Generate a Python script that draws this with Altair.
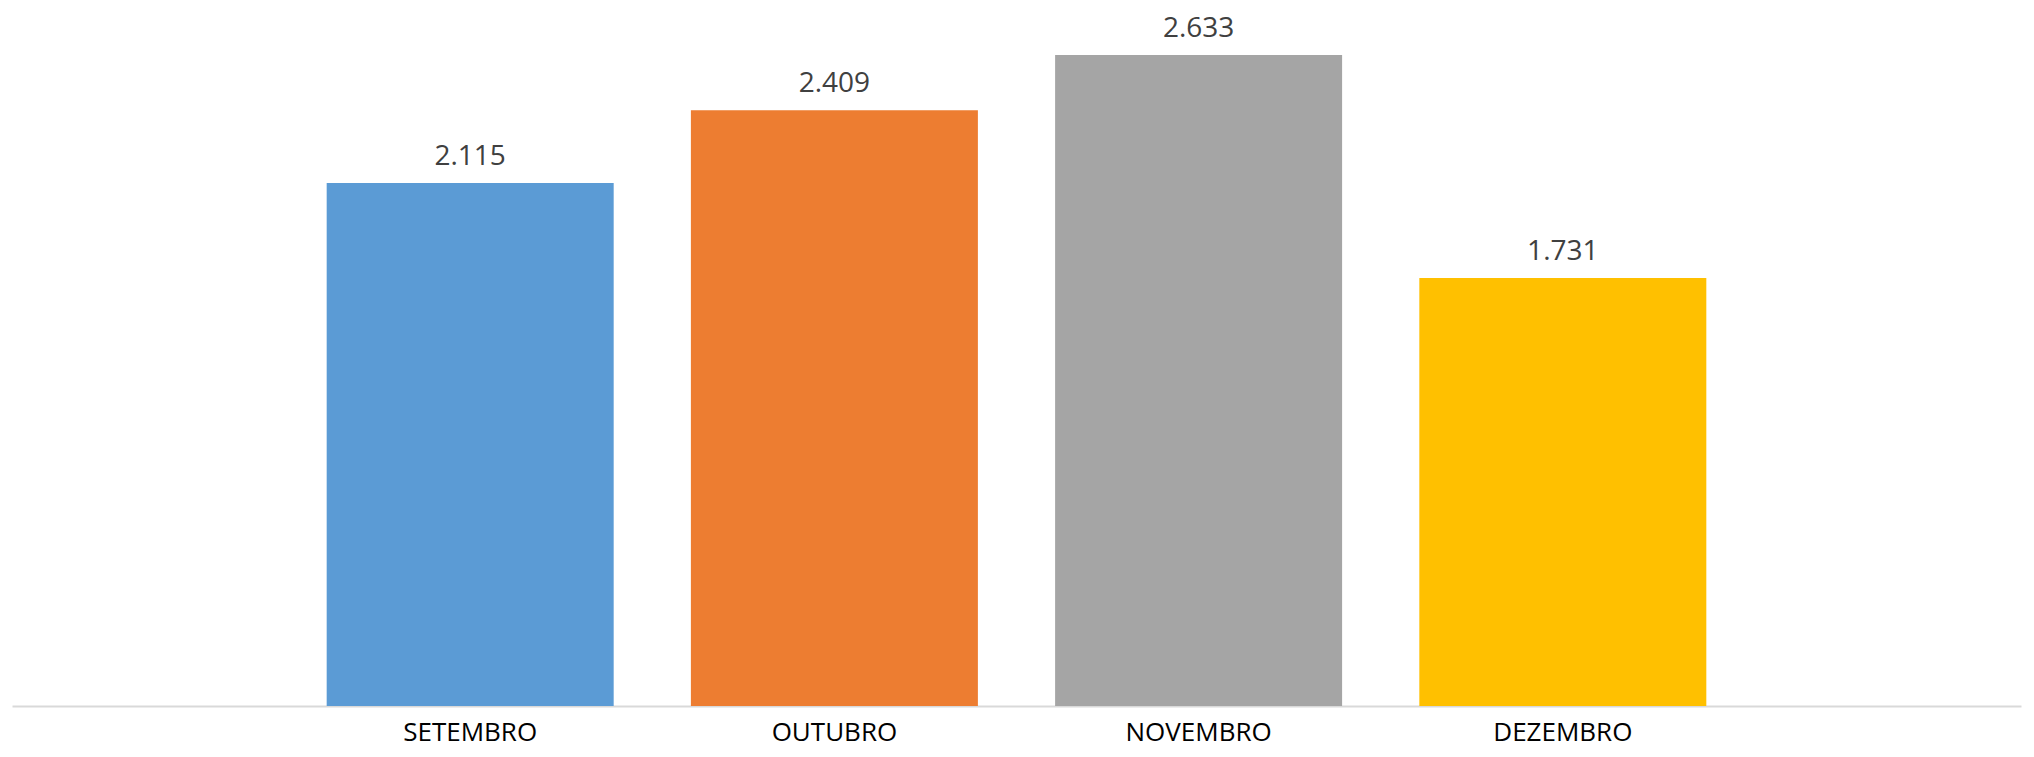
import altair as alt
import pandas as pd

months = ["SETEMBRO", "OUTUBRO", "NOVEMBRO", "DEZEMBRO"]
values = [2115, 2409, 2633, 1731]
colors = ["#5B9BD5", "#ED7D31", "#A5A5A5", "#FFC000"]

df = pd.DataFrame({
    "mes": months,
    "valor": values,
    "rotulo": [f"{v:,}".replace(",", ".") for v in values],
})

x = alt.X("mes:N", sort=months, title=None,
          scale=alt.Scale(paddingInner=0.212, paddingOuter=0.864),
          axis=alt.Axis(labelAngle=0, ticks=False, grid=False,
                        domainColor="#D9D9D9", domainWidth=2,
                        labelFont="Open Sans", labelFontSize=26,
                        labelColor="#000000", labelBaseline="alphabetic",
                        labelPadding=34))
y = alt.Y("valor:Q", title=None,
          scale=alt.Scale(domain=[0, 2823], nice=False, zero=True),
          axis=None)

bars = alt.Chart(df).mark_bar().encode(
    x=x, y=y,
    color=alt.Color("mes:N", sort=months,
                    scale=alt.Scale(domain=months, range=colors), legend=None),
)

labels = alt.Chart(df).mark_text(
    font="Open Sans", fontSize=28, color="#404040",
    baseline="alphabetic", dy=-18,
).encode(x=x, y=y, text="rotulo:N")

chart = (bars + labels).properties(
    width=2009, height=698,
    padding={"left": 4, "top": 0, "right": 4, "bottom": 43},
    autosize=alt.AutoSizeParams(type="none"),
).configure(background="white").configure_view(strokeWidth=0, stroke=None)

chart.save("out.html", embed_options={"renderer": "svg", "actions": False})
